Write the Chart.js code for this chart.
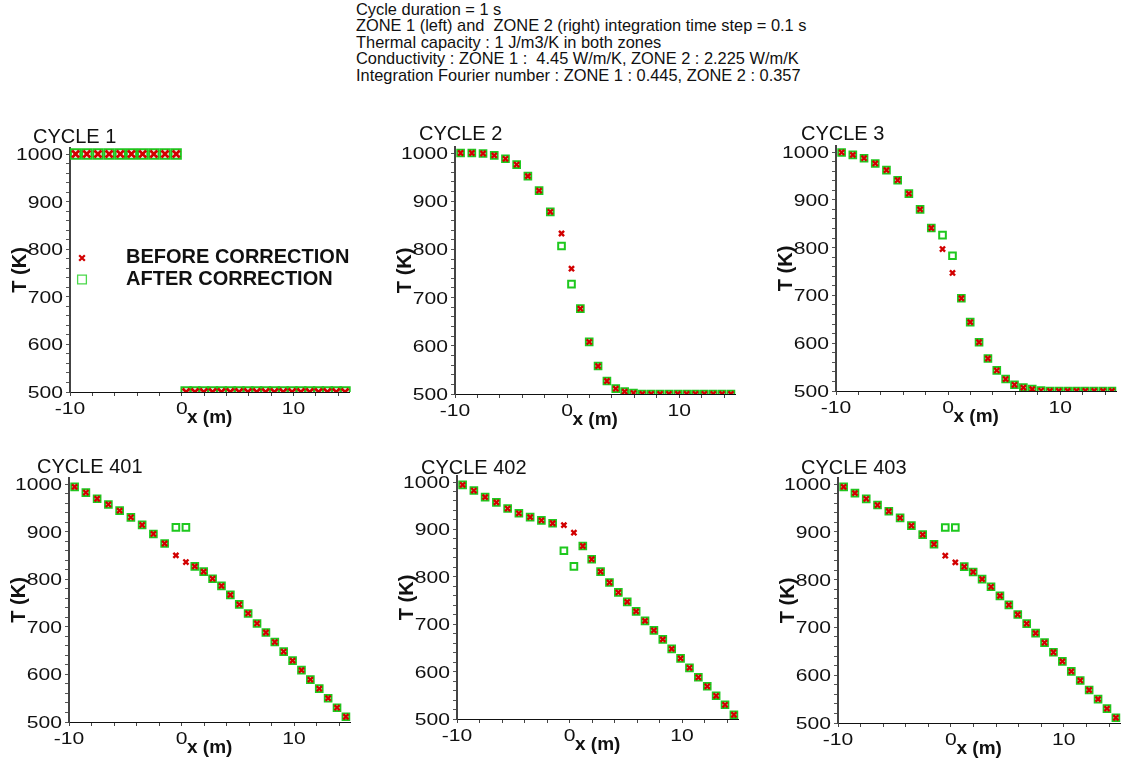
<!DOCTYPE html>
<html>
<head>
<meta charset="utf-8">
<title>Two-zone conduction, interface correction</title>
<script src="https://cdn.jsdelivr.net/npm/chart.js@4/dist/chart.umd.min.js"></script>
<style>
  html, body { margin: 0; padding: 0; background: #fff; overflow: hidden; }
  body { width: 1123px; height: 763px; position: relative; font-family: "Liberation Sans", Arial, sans-serif; }
  #header { position: absolute; left: 356px; top: 1px; font-size: 16.4px; line-height: 16.4px; color: #111; white-space: pre; }
  canvas { position: absolute; }
</style>
</head>
<body>
<div id="header">Cycle duration = 1 s
ZONE 1 (left) and  ZONE 2 (right) integration time step = 0.1 s
Thermal capacity : 1 J/m3/K in both zones
Conductivity : ZONE 1 :  4.45 W/m/K, ZONE 2 : 2.225 W/m/K
Integration Fourier number : ZONE 1 : 0.445, ZONE 2 : 0.357</div>

<script>
// cell centres (m): zone 1 has 10 cells of 1 m, zone 2 has 19 cells over 15 m
const cellX = [-9.5, -8.5, -7.5, -6.5, -5.5, -4.5, -3.5, -2.5, -1.5, -0.5,
               0.39, 1.18, 1.97, 2.76, 3.55, 4.34, 5.13, 5.92, 6.71, 7.50,
               8.29, 9.08, 9.87, 10.66, 11.45, 12.24, 13.03, 13.82, 14.61];

// temperatures (K) per cell, before / after the interface correction
const cycle1Before = [1000, 1000, 1000, 1000, 1000, 1000, 1000, 1000, 1000, 1000,
                      500, 500, 500, 500, 500, 500, 500, 500, 500, 500,
                      500, 500, 500, 500, 500, 500, 500, 500, 500];
const cycle1After  = [1000, 1000, 1000, 1000, 1000, 1000, 1000, 1000, 1000, 1000,
                      500, 500, 500, 500, 500, 500, 500, 500, 500, 500,
                      500, 500, 500, 500, 500, 500, 500, 500, 500];

const cycle2Before = [1000, 1000, 999, 995, 988, 976, 952, 922, 878, 833,
                      760, 677, 608, 558, 527, 511, 505, 502, 500, 500,
                      500, 500, 500, 500, 500, 500, 500, 500, 500];
const cycle2After  = [1000, 1000, 999, 995, 988, 976, 952, 922, 878, 807,
                      728, 677, 608, 558, 527, 511, 505, 502, 500, 500,
                      500, 500, 500, 500, 500, 500, 500, 500, 500];

const cycle3Before = [999, 994, 987, 976, 962, 941, 913, 880, 841, 797,
                      747, 694, 644, 602, 568, 543, 525, 513, 507, 504,
                      501, 500, 500, 500, 500, 500, 500, 500, 500];
const cycle3After  = [999, 994, 987, 976, 962, 941, 913, 880, 841, 826,
                      783, 694, 644, 602, 568, 543, 525, 513, 507, 504,
                      501, 500, 500, 500, 500, 500, 500, 500, 500];

const cycle401Before = [994, 982, 969, 957, 944, 930, 914, 895, 875, 850,
                        836, 827, 816, 801, 786, 767, 747, 728, 707, 688,
                        668, 648, 629, 609, 589, 570, 550, 530, 511];
const cycle401After  = [994, 982, 969, 957, 944, 930, 914, 895, 875, 909,
                        909, 827, 816, 801, 786, 767, 747, 728, 707, 688,
                        668, 648, 629, 609, 589, 570, 550, 530, 511];

const cycle402Before = [994, 982, 968, 957, 944, 934, 926, 919, 913, 909,
                        893, 865, 837, 811, 788, 767, 747, 727, 707, 687,
                        668, 648, 628, 608, 588, 569, 549, 530, 509];
const cycle402After  = [994, 982, 968, 957, 944, 934, 926, 919, 913, 855,
                        822, 865, 837, 811, 788, 767, 747, 727, 707, 687,
                        668, 648, 628, 608, 588, 569, 549, 530, 509];

const cycle403Before = [994, 981, 969, 956, 943, 929, 913, 894, 874, 850,
                        836, 827, 816, 801, 785, 766, 747, 727, 708, 688,
                        668, 648, 629, 608, 589, 569, 550, 530, 511];
const cycle403After  = [994, 981, 969, 956, 943, 929, 913, 894, 874, 909,
                        909, 827, 816, 801, 785, 766, 747, 727, 708, 688,
                        668, 648, 629, 608, 589, 569, 550, 530, 511];

// axis ticks and labels
const xTickMarks = [-10, -8, -6, -4, -2, 0, 2, 4, 6, 8, 10, 12, 14];
const xTickLabels = [-10, 0, 10];
const yTickLabels = [500, 600, 700, 800, 900, 1000];
const X_MIN = -10, X_MAX = 15, Y_MIN = 500, Y_MAX = 1013;

const seriesNames = ['BEFORE CORRECTION', 'AFTER CORRECTION'];
const RED = '#d20000';
const GREEN = '#1ec81e';
const FONT = '"Liberation Sans", Arial, sans-serif';

// where each panel's axes sit on the page
const panels = [
  { name: 'CYCLE 1',   before: cycle1Before,   after: cycle1After,   left: 70,  right: 352,  y1000: 154, y500: 392, big: true, titleDx: -37, titleDy: -11, legend: true },
  { name: 'CYCLE 2',   before: cycle2Before,   after: cycle2After,   left: 455, right: 736,  y1000: 153, y500: 394, titleDx: -36, titleDy: -13 },
  { name: 'CYCLE 3',   before: cycle3Before,   after: cycle3After,   left: 836, right: 1117, y1000: 152, y500: 391, titleDx: -35, titleDy: -12 },
  { name: 'CYCLE 401', before: cycle401Before, after: cycle401After, left: 69,  right: 351,  y1000: 484, y500: 722, titleDx: -32, titleDy: -11 },
  { name: 'CYCLE 402', before: cycle402Before, after: cycle402After, left: 457, right: 739,  y1000: 482, y500: 719, titleDx: -36, titleDy: -8 },
  { name: 'CYCLE 403', before: cycle403Before, after: cycle403After, left: 838, right: 1121, y1000: 484, y500: 723, titleDx: -37, titleDy: -10 }
];

const PADL = 70, PADR = 6, PADT = 50, PADB = 45, TICK = 4;

// labels, axis titles and the legend drawn by hand so the text can be stretched like the original plotter output
const panelText = {
  id: 'panelText',
  afterDraw(chart, args, opts) {
    const { ctx, chartArea: a, scales: { x, y } } = chart;
    const top1000 = y.getPixelForValue(1000);
    ctx.save();
    ctx.fillStyle = '#111';
    ctx.textBaseline = 'alphabetic';

    ctx.font = '20px ' + FONT;
    ctx.textAlign = 'left';
    ctx.fillText(opts.name, a.left + opts.titleDx, top1000 + opts.titleDy);

    ctx.font = '17px ' + FONT;
    yTickLabels.forEach(v => {
      ctx.save();
      ctx.translate(a.left - 7, y.getPixelForValue(v) + 6);
      ctx.scale(1.24, 1);
      ctx.textAlign = 'right';
      ctx.fillText(String(v), 0, 0);
      ctx.restore();
    });
    xTickLabels.forEach(v => {
      ctx.save();
      ctx.translate(x.getPixelForValue(v), a.bottom + 21.5);
      ctx.scale(1.24, 1);
      ctx.textAlign = 'center';
      ctx.fillText(String(v), 0, 0);
      ctx.restore();
    });

    ctx.font = 'bold 19px ' + FONT;
    ctx.textAlign = 'center';
    ctx.fillText('x (m)', (a.left + a.right) / 2, a.bottom + 31);

    ctx.save();
    ctx.font = 'bold 20px ' + FONT;
    ctx.translate(a.left - 44, (a.top + a.bottom) / 2);
    ctx.rotate(-Math.PI / 2);
    ctx.fillText('T (K)', 0, 0);
    ctx.restore();

    if (opts.legend) {
      const lx = a.left + 12;
      const ly = top1000 + 104;
      ctx.lineWidth = 2.2;
      ctx.strokeStyle = RED;
      Chart.helpers.drawPoint(ctx, { pointStyle: 'crossRot', radius: 4, borderWidth: 2.2 }, lx, ly);
      ctx.lineWidth = 1.3;
      ctx.strokeStyle = '#4ad84a';
      ctx.fillStyle = 'rgba(0,0,0,0)';
      Chart.helpers.drawPoint(ctx, { pointStyle: 'rect', radius: 6.2, borderWidth: 1.3 }, lx, ly + 21.5);
      ctx.fillStyle = '#111';
      ctx.font = 'bold 20px ' + FONT;
      ctx.textAlign = 'left';
      ctx.fillText(seriesNames[0], a.left + 56, top1000 + 108.7);
      ctx.fillText(seriesNames[1], a.left + 56, top1000 + 131);
    }
    ctx.restore();
  }
};

const toPoints = values => values.map((t, i) => ({ x: cellX[i], y: t }));

panels.forEach(p => {
  const yTop = p.y1000 - (Y_MAX - 1000) / 500 * (p.y500 - p.y1000);
  const canvasTop = Math.floor(yTop) - PADT;
  const padTop = yTop - canvasTop;
  const canvas = document.createElement('canvas');
  canvas.width = p.right - p.left + PADL + PADR;
  canvas.height = p.y500 - canvasTop + PADB;
  canvas.style.left = (p.left - PADL) + 'px';
  canvas.style.top = canvasTop + 'px';
  document.body.appendChild(canvas);

  const markBefore = p.big ? 5 : 3.6;
  const markAfter = p.big ? 6.6 : 4.7;
  const clipBottom = { left: false, top: false, right: false, bottom: 0 };

  new Chart(canvas, {
    type: 'scatter',
    data: {
      datasets: [{
        label: seriesNames[0],
        data: toPoints(p.before),
        showLine: false,
        pointStyle: 'crossRot',
        pointRadius: markBefore,
        pointBorderWidth: p.big ? 2.8 : 2.4,
        pointBorderColor: RED,
        pointBackgroundColor: RED,
        clip: clipBottom
      }, {
        label: seriesNames[1],
        data: toPoints(p.after),
        showLine: false,
        pointStyle: 'rect',
        pointRadius: markAfter,
        pointBorderWidth: 2,
        pointBorderColor: GREEN,
        pointBackgroundColor: 'rgba(255,255,255,0)',
        clip: clipBottom
      }]
    },
    options: {
      responsive: false,
      animation: false,
      events: [],
      layout: { padding: { left: PADL - TICK, right: PADR, top: padTop, bottom: PADB - TICK } },
      scales: {
        x: {
          type: 'linear',
          min: X_MIN,
          max: X_MAX,
          afterBuildTicks: scale => { scale.ticks = xTickMarks.map(v => ({ value: v })); },
          afterFit: scale => { scale.height = TICK; },
          ticks: { display: false },
          grid: { drawOnChartArea: false, drawTicks: true, tickLength: TICK, tickColor: '#444', tickWidth: 1 },
          border: { display: true, color: '#111', width: 1 }
        },
        y: {
          type: 'linear',
          min: Y_MIN,
          max: Y_MAX,
          afterBuildTicks: scale => {
            const marks = [];
            for (let t = Y_MIN; t <= 1000; t += 20) marks.push({ value: t });
            scale.ticks = marks;
          },
          afterFit: scale => { scale.width = TICK; },
          ticks: { display: false },
          grid: { drawOnChartArea: false, drawTicks: true, tickLength: TICK, tickColor: '#555', tickWidth: 1 },
          border: { display: true, color: '#444', width: 2 }
        }
      },
      plugins: {
        legend: { display: false },
        tooltip: { enabled: false },
        panelText: { name: p.name, titleDx: p.titleDx, titleDy: p.titleDy, legend: !!p.legend }
      }
    },
    plugins: [panelText]
  });
});
</script>
</body>
</html>
